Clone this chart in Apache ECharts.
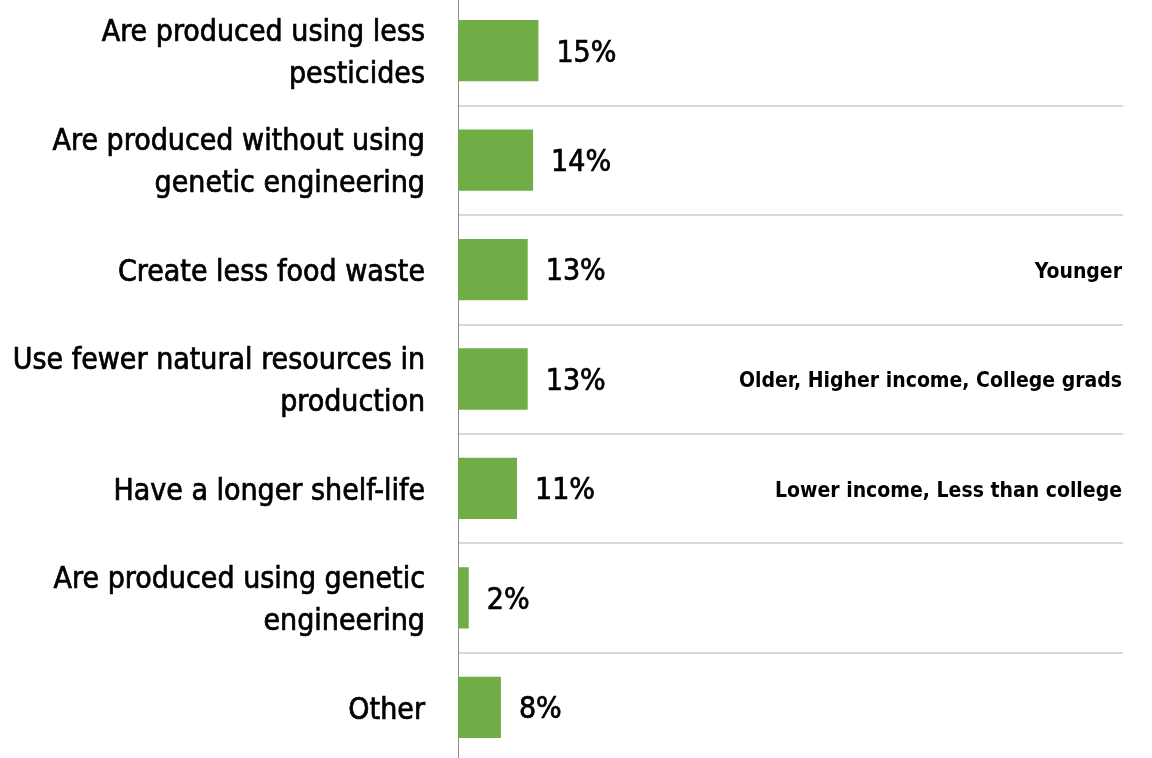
<!DOCTYPE html>
<html>
<head>
<meta charset="utf-8">
<script src="https://cdn.jsdelivr.net/npm/echarts@6/dist/echarts.min.js"></script>
<style>
  html, body { margin: 0; padding: 0; background: #fff; overflow: hidden; }
  /* rows run slightly past the top and bottom edges, so the outer separators stay hidden */
  #chart { width: 1152px; height: 766px; margin-top: -4px; }
</style>
</head>
<body>
<div id="chart"></div>
<script>
// Attributes shoppers look for, with share of respondents (%)
const categories = [
  'Are produced using less\npesticides',
  'Are produced without using\ngenetic engineering',
  'Create less food waste',
  'Use fewer natural resources in\nproduction',
  'Have a longer shelf-life',
  'Are produced using genetic\nengineering',
  'Other'
];
const shares = [15, 14, 13, 13, 11, 2, 8];
// Groups that over-index on each attribute
const groupNotes = [
  '',
  '',
  'Younger',
  'Older, Higher income, College grads',
  'Lower income, Less than college',
  '',
  ''
];

const FONT = '"Liberation Sans Narrow", "DejaVu Sans Condensed", "Arial Narrow", sans-serif';

// wrap every line in a rich token so it can sit a few pixels lower in its row
const asRich = (key) => (v) => v ? v.split('\n').map(s => '{' + key + '|' + s + '}').join('\n') : '';

const chart = echarts.init(document.getElementById('chart'));
chart.setOption({
  animation: false,
  grid: { left: 458, right: 29, top: 0, bottom: 0, containLabel: false },
  xAxis: {
    type: 'value',
    min: 0,
    max: 124,
    show: false
  },
  yAxis: [
    {
      type: 'category',
      inverse: true,
      data: categories,
      axisLine: { show: true, lineStyle: { color: '#8c8c8c', width: 1 } },
      axisTick: { show: false },
      splitLine: { show: true, lineStyle: { color: '#d9d9d9', width: 2 } },
      axisLabel: {
        margin: 33,
        align: 'right',
        formatter: asRich('c'),
        rich: {
          c: {
            color: '#000',
            fontFamily: FONT,
            fontSize: 30,
            lineHeight: 42,
            padding: [7, 0, 0, 0],
            textBorderColor: '#000',
            textBorderWidth: 0.7
          }
        }
      }
    },
    {
      type: 'category',
      inverse: true,
      position: 'right',
      data: groupNotes,
      axisLine: { show: false },
      axisTick: { show: false },
      splitLine: { show: false },
      axisLabel: {
        inside: true,
        margin: 1,
        formatter: asRich('n'),
        rich: {
          n: {
            color: '#000',
            fontFamily: FONT,
            fontSize: 21,
            fontWeight: 'bold',
            lineHeight: 24,
            padding: [6, 0, 0, 0]
          }
        }
      }
    }
  ],
  series: [
    {
      type: 'bar',
      data: shares,
      barWidth: '56%',
      itemStyle: { color: '#70ad47' },
      label: {
        show: true,
        position: 'right',
        distance: 18,
        offset: [0, 3],
        color: '#000',
        fontFamily: FONT,
        fontSize: 30,
        textBorderColor: '#000',
        textBorderWidth: 0.7,
        formatter: p => p.value + '%'
      }
    }
  ]
});
</script>
</body>
</html>
